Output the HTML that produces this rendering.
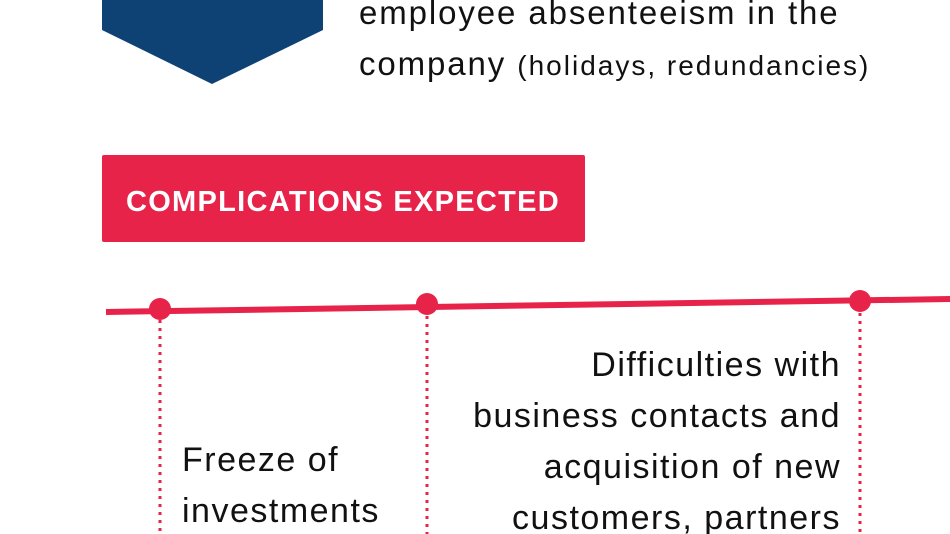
<!DOCTYPE html>
<html><head><meta charset="utf-8"><style>
html,body{margin:0;padding:0;background:#fff;width:950px;height:534px;overflow:hidden;position:relative;font-family:"Liberation Sans",sans-serif;}
svg{position:absolute;left:0;top:0}
.t{position:absolute;color:#111;white-space:nowrap;font-size:34px;line-height:1;letter-spacing:1.5px}
.r{text-align:right}
</style></head><body>
<svg width="950" height="534">
<polygon points="102,0 323,0 323,30 212,84 102,30" fill="#0f4274"/>
<rect x="102" y="155" width="483" height="87" rx="2" fill="#e8234a"/>
<text x="343" y="211" text-anchor="middle" fill="#fff" font-family="Liberation Sans, sans-serif" font-weight="bold" font-size="29" letter-spacing="1.3">COMPLICATIONS EXPECTED</text>
<line x1="106" y1="312" x2="950" y2="299" stroke="#e8234a" stroke-width="6"/>
<g stroke="#e8234a" stroke-width="3" stroke-dasharray="3,5">
<line x1="160" y1="320" x2="160" y2="534"/>
<line x1="427" y1="316" x2="427" y2="534"/>
<line x1="860" y1="313" x2="860" y2="534"/>
</g>
<g fill="#e8234a">
<circle cx="160" cy="309" r="11"/>
<circle cx="427" cy="304" r="11"/>
<circle cx="860" cy="301" r="11"/>
</g>
</svg>
<div class="t" style="left:359px;top:-4px;font-size:33px;letter-spacing:1.9px">employee absenteeism in the</div>
<div class="t" style="left:359px;top:47px;font-size:33px;letter-spacing:1.9px">company <span style="font-size:28px;letter-spacing:2px">(holidays, redundancies)</span></div>
<div class="t" style="left:182px;top:443px;">Freeze of</div>
<div class="t" style="left:182px;top:494px;">investments</div>
<div class="t r" style="right:109px;top:348px;">Difficulties with</div>
<div class="t r" style="right:109px;top:399px;">business contacts and</div>
<div class="t r" style="right:109px;top:450px;">acquisition of new</div>
<div class="t r" style="right:109px;top:501px;">customers, partners</div>
</body></html>
